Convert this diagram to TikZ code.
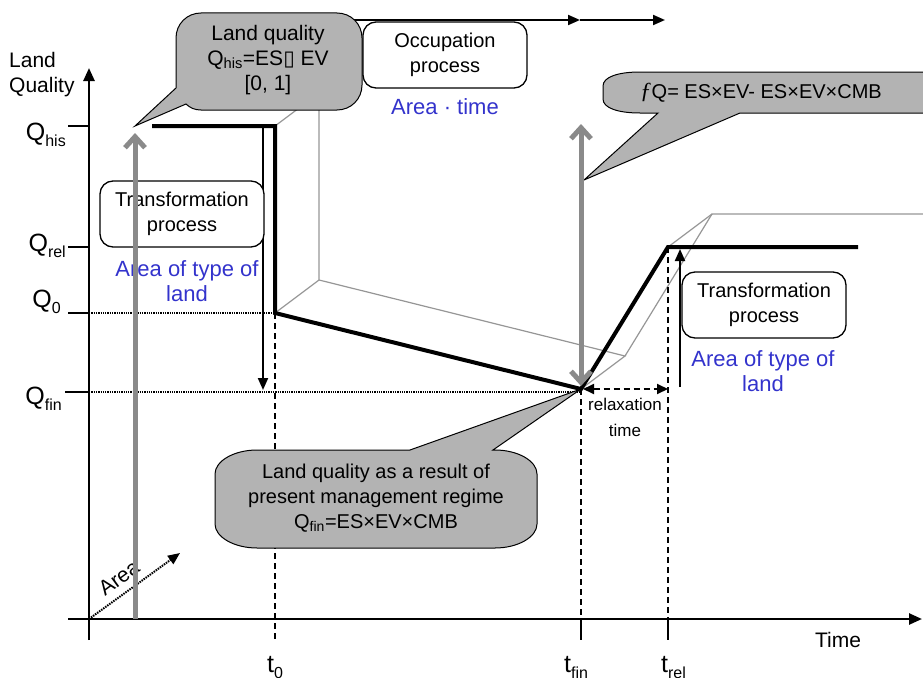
\documentclass[tikz,border=0pt]{standalone}
\usepackage{fontspec}
\usepackage{graphicx}
\setmainfont{Liberation Sans}
\newfontfamily\boxglyph{DejaVu Sans}
\newfontfamily\serifglyph{Liberation Serif}
\usetikzlibrary{arrows.meta,calc}
\definecolor{bubblefill}{RGB}{179,179,179}
\definecolor{pathgray}{RGB}{138,138,138}
\definecolor{edgegray}{RGB}{150,150,150}
\definecolor{labelblue}{RGB}{51,51,204}
% axis symbol with a lowered index
\newcommand\axsym[2]{#1\raisebox{-6pt}{\fontsize{16}{16}\selectfont #2}}
\begin{document}
\begin{tikzpicture}[x=1pt,y=-1pt,
  lbl/.style={font=\fontsize{20}{25}\selectfont, align=center, inner sep=0pt},
  bluelbl/.style={lbl, text=labelblue, font=\fontsize{22}{25}\selectfont},
  qlbl/.style={font=\fontsize{25}{28}\selectfont, inner sep=0pt},
  axisline/.style={line width=2.5pt, -{Triangle[length=13pt,width=11pt]}},
  tickmark/.style={line width=1.2pt},
  dotguide/.style={line width=2pt, dash pattern=on 1.3pt off 1pt},
  dashguide/.style={line width=1.8pt, dash pattern=on 6pt off 4pt},
  edge3d/.style={edgegray, line width=1.2pt},
  qpath/.style={line width=4pt, line join=miter},
  blackarrow/.style={line width=2pt, -{Triangle[length=12pt,width=10pt]}},
  grayarrow/.style={pathgray, line width=5pt},
  barb/.tip={Straight Barb[length=11pt,width=20pt]},
  bubble/.style={fill=bubblefill, draw=black, line width=1pt, line join=miter},
  procbox/.style={lbl, draw=black, fill=white, line width=1.3pt, rounded corners=13pt,
                  minimum width=164pt, minimum height=66pt},
]
\useasboundingbox (0,0) rectangle (923,677);

% axes and levels
\coordinate (O) at (89,619);
\coordinate (Ytop) at (89,68);
\coordinate (Ybot) at (89,640);
\coordinate (Xl) at (68,619);
\coordinate (Xr) at (922,619);
\coordinate (Qhis) at (89,126);
\coordinate (Qrel) at (89,247);
\coordinate (Qzero) at (89,313);
\coordinate (Qfin) at (89,392);
\coordinate (Tzero) at (275,619);
\coordinate (Tfin) at (581,619);
\coordinate (Trel) at (668,619);

% land-quality trajectory
\coordinate (A) at (152,126);
\coordinate (B) at (275,126);
\coordinate (C) at (275,313);
\coordinate (D) at (581,389);
\coordinate (E) at (668,247);
\coordinate (F) at (858,247);

% receding copy of the trajectory along the area axis
\coordinate (Bb) at ($(B)+(44,-33)$);
\coordinate (Cb) at ($(C)+(44,-33)$);
\coordinate (Db) at ($(D)+(44,-33)$);
\coordinate (Eb) at ($(E)+(44,-33)$);
\coordinate (Fb) at (935,214);

\draw[edge3d] (B) -- (Bb) -- (Cb) -- (C);
\draw[edge3d] (Cb) -- (Db) -- (D);
\draw[edge3d] (Db) -- (Eb) -- (Fb);
\draw[edge3d] (E) -- (Eb);

% level ticks and guide lines
\draw[tickmark] (Qhis) -- ++(-21,0);
\draw[tickmark] (Qrel) -- ++(-21,0);
\draw[tickmark] (Qzero) -- ++(-21,0);
\draw[tickmark] (Qfin) -- ++(-24,0);
\draw[dotguide] (Qzero) -- (C);
\draw[dotguide] (Qfin) -- (Qfin -| D);
\draw[dashguide] (C) -- ($(Tzero)+(0,21)$);
\draw[dashguide] (D) -- (Tfin);
\draw[dashguide] (E) -- (Trel);
\draw[tickmark] (Tfin) -- ++(0,21);
\draw[tickmark] (Trel) -- ++(0,21);

\draw[axisline] (Ybot) -- (Ytop);
\draw[axisline] (Xl) -- (Xr);

\draw[qpath] (A) -- (B) -- (C) -- (D) -- (E) -- (F);

% transformation arrows
\coordinate (TLa) at (263,126);
\coordinate (TLb) at (263,390);
\coordinate (TRa) at (680,387);
\coordinate (TRb) at (680,249);
\draw[blackarrow] (TLa) -- (TLb);
\draw[blackarrow] (TRa) -- (TRb);

% occupation arrow along the top
\coordinate (Ostart) at (300,20);
\coordinate (Ofin) at (580,20);
\coordinate (Orel) at (665,20);
\draw[blackarrow] (Ostart) -- (Ofin);
\draw[blackarrow] (Ofin) -- (Orel);

% historical quality callout
\draw[bubble] (201,13) -- (337,13) .. controls (351,13) and (362,24) .. (362,38)
  -- (362,85) .. controls (362,99) and (351,110) .. (337,110)
  -- (201,110) .. controls (195,110) and (190,108) .. (186,104)
  -- (135,126) -- (176,88)
  -- (176,38) .. controls (176,24) and (187,13) .. (201,13) -- cycle;
\node[lbl, font=\fontsize{21}{25}\selectfont] (lq) at (268,60)
  {Land quality\\Q\textsubscript{his}=ES{\boxglyph ▯} EV\\{}[0, 1]};

% quality loss callout
\draw[bubble] (640,72) -- (935,72) -- (935,113) -- (740,113) -- (584,180) -- (658,113)
  -- (640,113) .. controls (618,113) and (603,108) .. (603,99)
  -- (603,86) .. controls (603,77) and (618,72) .. (640,72) -- cycle;
\node[lbl] (dq) at (761,93) {{\serifglyph\itshape\fontsize{23}{25}\selectfont ƒ}Q= ES×EV- ES×EV×CMB};

% final quality callout
\draw[bubble] (257,450) -- (410,450) -- (D) -- (493,450)
  -- (495,450) .. controls (518,450) and (537,461) .. (537,474)
  -- (537,524) .. controls (537,537) and (518,548) .. (495,548)
  -- (257,548) .. controls (234,548) and (215,537) .. (215,524)
  -- (215,474) .. controls (215,461) and (234,450) .. (257,450) -- cycle;
\node[lbl] (qf) at (376,498)
  {Land quality as a result of\\present management regime\\Q\textsubscript{fin}=ES×EV×CMB};

% process boxes
\node[procbox] (occ) at (445,55) {Occupation\\process};
\node[bluelbl] (occa) at (445,107) {Area · time};
\node[procbox] (trl) at (182,214) {Transformation\\process};
\node[bluelbl] (trla) at (187,281) {Area of type of\\land};
\node[procbox] (trr) at (764,305) {Transformation\\process};
\node[bluelbl] (trra) at (763,371) {Area of type of\\land};

% relaxation time
\coordinate (Dr) at (583,389);
\draw[dashguide, {Triangle[length=11pt,width=10pt]}-{Triangle[length=11pt,width=10pt]}]
  (Dr) -- (Dr -| E);
\node[lbl, font=\fontsize{17}{26}\selectfont] (relax) at (625,417) {relaxation\\time};

% area axis
\coordinate (Aend) at (180,553);
\draw[line width=2pt, dash pattern=on 1.5pt off 1pt, -{Triangle[length=12pt,width=10pt]}] (O) -- (Aend);
\node[lbl, rotate=36, font=\fontsize{21}{25}\selectfont] (area) at (119,578) {Area};

% area extents
\coordinate (Ga) at (135,619);
\coordinate (Gb) at (135,133);
\coordinate (Gc) at (581,124);
\coordinate (Gd) at (581,386);
\draw[grayarrow, -barb] (Ga) -- (Gb);
\draw[grayarrow, barb-barb] (Gc) -- (Gd);

% axis labels
\node[lbl, align=left, anchor=west, font=\fontsize{21}{25}\selectfont] (ylab) at (9,75) {Land\\Quality};
\node[qlbl, anchor=base east] (lhis) at (66,140) {\axsym{Q}{his}};
\node[qlbl, anchor=base east] (lrel) at (66,251) {\axsym{Q}{rel}};
\node[qlbl, anchor=base east] (lzero) at (61,307) {\axsym{Q}{0}};
\node[qlbl, anchor=base east] (lfin) at (62,404) {\axsym{Q}{fin}};
\node[qlbl, anchor=base west] (tzero) at (267,672) {\axsym{t}{0}};
\node[qlbl, anchor=base west] (tfin) at (564,672) {\axsym{t}{fin}};
\node[qlbl, anchor=base west] (trel) at (661,672) {\axsym{t}{rel}};
\node[lbl, font=\fontsize{21}{25}\selectfont] (time) at (838,640) {Time};
\end{tikzpicture}
\end{document}
